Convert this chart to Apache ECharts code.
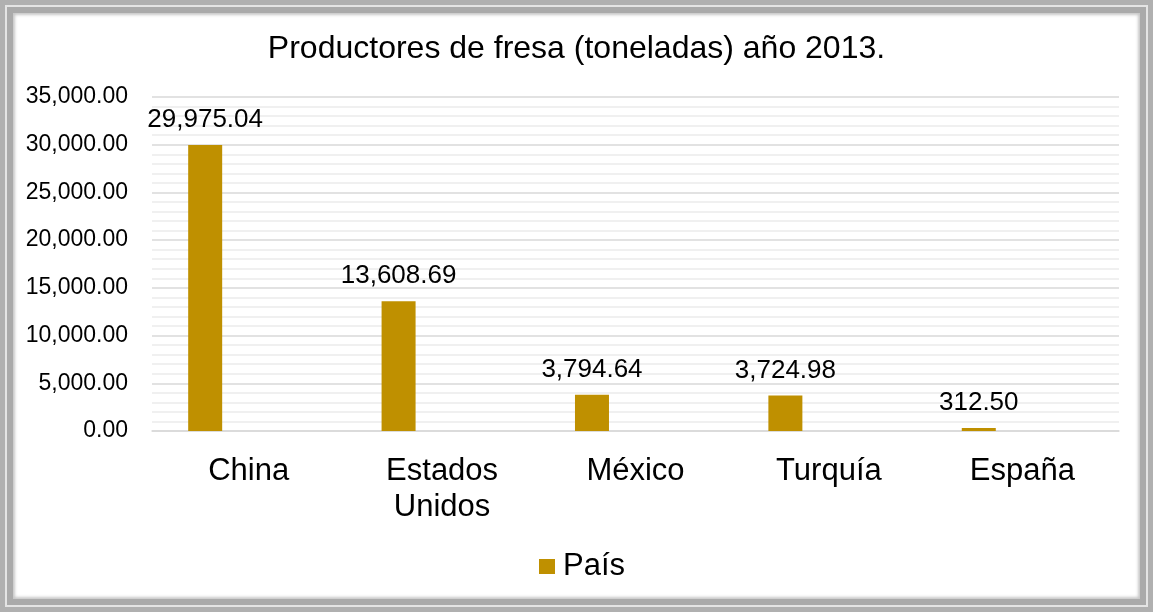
<!DOCTYPE html>
<html>
<head>
<meta charset="utf-8">
<script src="https://cdn.jsdelivr.net/npm/echarts@6/dist/echarts.min.js"></script>
<style>
html,body{margin:0;padding:0;background:#fff;}
#chart{position:absolute;left:0;top:0;width:1153px;height:612px;}
#frame{position:absolute;left:0;top:0;width:1153px;height:612px;box-sizing:border-box;pointer-events:none;
border:5px solid #b0b0b0;
box-shadow: inset 0 0 0 2px #e4e4e4, inset 0 0 0 8px #aaaaaa, inset 0 0 3px 10px #c8c8c8;}
</style>
</head>
<body>
<div id="chart"></div>
<div id="frame"></div>
<script>
const titleText = 'Productores de fresa (toneladas) año 2013.';
const categories = ['China', 'Estados Unidos', 'México', 'Turquía', 'España'];
const seriesName = 'País';
const values = [29975.04, 13608.69, 3794.64, 3724.98, 312.50];
const emptyValues = [null, null, null, null, null];

const fmt = v => Number(v).toLocaleString('en-US', {minimumFractionDigits: 2, maximumFractionDigits: 2});
const FONT = 'Liberation Sans, Arial, sans-serif';

const chart = echarts.init(document.getElementById('chart'));
chart.setOption({
  backgroundColor: 'transparent',
  animation: false,
  title: {
    text: titleText, left: 'center', top: 28,
    textStyle: {fontFamily: FONT, fontSize: 32, fontWeight: 'normal', color: '#000'}
  },
  grid: {left: 152, right: 34, top: 97, bottom: 181, containLabel: false},
  legend: {
    data: [seriesName], bottom: 25, left: 534,
    itemWidth: 16, itemHeight: 15, itemGap: 10,
    icon: 'rect',
    textStyle: {fontFamily: FONT, fontSize: 31, color: '#000', padding: [0, 0, 0, 3]}
  },
  xAxis: {
    type: 'category', data: categories,
    axisLine: {show: true, lineStyle: {color: '#d9d9d9', width: 1.5}},
    axisTick: {show: false},
    axisLabel: {
      fontFamily: FONT, fontSize: 31, color: '#000', margin: 22, lineHeight: 36, interval: 0,
      formatter: v => v.replace(' ', '\n')
    }
  },
  yAxis: {
    type: 'value', min: 0, max: 35000, interval: 5000,
    axisLine: {show: false}, axisTick: {show: false},
    axisLabel: {fontFamily: FONT, fontSize: 23, color: '#000', margin: 24, formatter: v => fmt(v)},
    splitLine: {lineStyle: {color: '#d9d9d9', width: 1.5}},
    minorTick: {show: false, splitNumber: 5},
    minorSplitLine: {show: true, lineStyle: {color: '#ececec', width: 1.5}}
  },
  series: [
    {
      name: seriesName, type: 'bar', data: values, barWidth: 34, barGap: '156%',
      itemStyle: {color: '#bf9000'},
      label: {show: true, position: 'top', distance: 12, fontFamily: FONT, fontSize: 26, color: '#000', formatter: p => fmt(p.value)}
    },
    {
      name: 'empty', type: 'bar', data: emptyValues, barWidth: 34,
      itemStyle: {color: '#7f6000'}
    }
  ]
});
</script>
</body>
</html>
